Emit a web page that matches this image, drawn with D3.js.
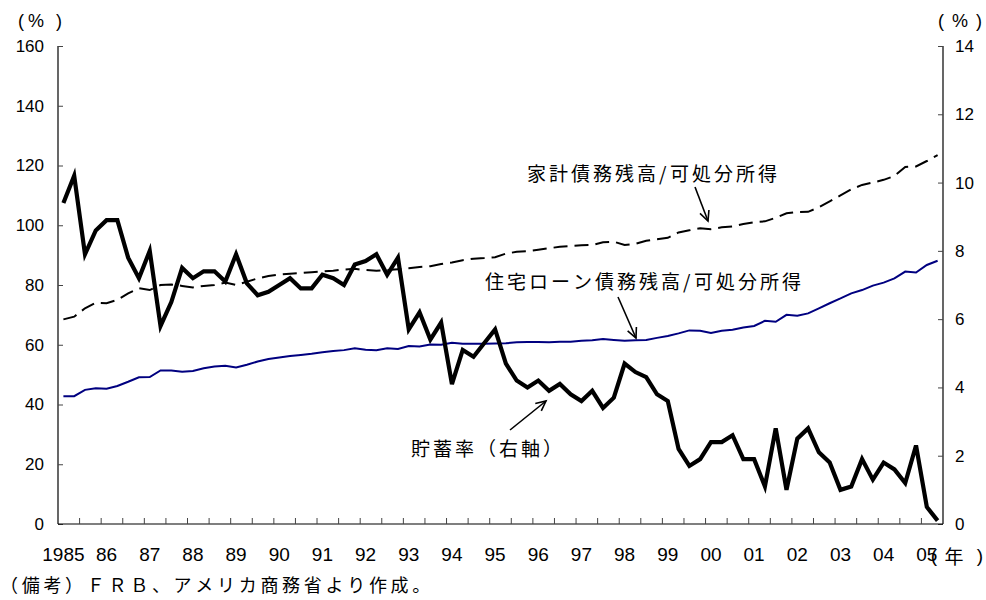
<!DOCTYPE html>
<html>
<head>
<meta charset="utf-8">
<script src="https://cdn.jsdelivr.net/npm/d3@7"></script>
<style>
  html, body { margin: 0; padding: 0; background: #fff; }
  svg { display: block; }
  .num { font-family: "Liberation Sans", Arial, sans-serif; fill: #000; }
  .jp { font-family: "Noto Sans CJK JP", sans-serif; fill: #000; }
</style>
</head>
<body>
<svg id="chart" width="986" height="600"></svg>
<script>
// Quarterly categories 1985Q1 – 2005Q2
const quarters = [];
for (let y = 1985; y <= 2005; y++) {
  for (let q = 1; q <= 4; q++) {
    if (y === 2005 && q > 2) break;
    quarters.push(y + "Q" + q);
  }
}

// Year labels shown under the first quarter of each year
const yearLabels = ["1985","86","87","88","89","90","91","92","93","94","95",
                    "96","97","98","99","00","01","02","03","04","05"];

// Household debt / disposable income (%), left axis
const householdDebt = [
  68.5, 69.4, 72.2, 74.1, 73.9, 75.0, 77.2, 78.9, 78.3, 80.0,
  80.2, 79.7, 79.2, 79.7, 80.0, 80.8, 80.0, 81.1, 82.2, 83.0,
  83.5, 83.8, 84.0, 84.3, 84.5, 84.8, 85.2, 85.4, 85.0, 84.8,
  85.0, 85.3, 85.6, 86.0, 86.3, 87.0, 87.5, 88.3, 88.8, 89.0,
  89.3, 90.5, 91.1, 91.3, 91.8, 92.3, 92.8, 93.0, 93.3, 93.4,
  94.3, 94.5, 93.4, 93.8, 94.8, 95.3, 95.8, 97.6, 98.3, 99.0,
  98.7, 99.3, 99.6, 100.4, 101.0, 101.3, 102.5, 104.0, 104.4, 104.5,
  106.0, 108.0, 110.0, 112.0, 113.5, 114.3, 115.2, 116.5, 119.5, 119.7,
  121.5, 123.5
];

// Mortgage debt / disposable income (%), left axis
const mortgageDebt = [
  42.8, 42.8, 44.9, 45.4, 45.3, 46.2, 47.6, 49.1, 49.2, 51.4,
  51.4, 51.0, 51.2, 52.1, 52.7, 53.0, 52.4, 53.3, 54.4, 55.2,
  55.7, 56.2, 56.6, 57.0, 57.5, 57.9, 58.2, 58.8, 58.3, 58.2,
  58.8, 58.6, 59.6, 59.4, 60.1, 60.0, 60.7, 60.3, 60.3, 60.3,
  60.4, 60.5, 60.8, 60.9, 60.9, 60.8, 61.0, 61.0, 61.3, 61.5,
  61.9, 61.6, 61.3, 61.5, 61.6, 62.3, 62.9, 63.8, 64.8, 64.7,
  63.9, 64.7, 65.0, 65.8, 66.3, 68.0, 67.7, 70.0, 69.7, 70.5,
  72.2, 73.9, 75.5, 77.2, 78.3, 79.8, 80.8, 82.2, 84.5, 84.2,
  86.7, 88.1
];

// Personal saving rate (%), right axis
const savingRate = [
  9.4, 10.2, 7.9, 8.6, 8.9, 8.9, 7.8, 7.2, 8.0, 5.8,
  6.5, 7.5, 7.2, 7.4, 7.4, 7.1, 7.9, 7.05, 6.7, 6.8,
  7.0, 7.2, 6.9, 6.9, 7.3, 7.2, 7.0, 7.6, 7.7, 7.9,
  7.3, 7.8, 5.7, 6.2, 5.4, 5.9, 4.1, 5.1, 4.9, 5.3,
  5.7, 4.7, 4.2, 4.0, 4.2, 3.9, 4.1, 3.8, 3.6, 3.9,
  3.4, 3.7, 4.7, 4.45, 4.3, 3.8, 3.6, 2.2, 1.7, 1.9,
  2.4, 2.4, 2.6, 1.9, 1.9, 1.1, 2.8, 1.0, 2.5, 2.8,
  2.1, 1.8, 1.0, 1.1, 1.9, 1.3, 1.8, 1.6, 1.2, 2.3,
  0.5, 0.1
];

const leftTicks = [0, 20, 40, 60, 80, 100, 120, 140, 160];
const rightTicks = [0, 2, 4, 6, 8, 10, 12, 14];

const svg = d3.select("#chart");
const plot = { left: 58, right: 943, top: 46, bottom: 524 };

const xBand = d3.scaleBand().domain(quarters).range([plot.left, plot.right]).padding(0);
const xPt = q => xBand(q) + xBand.bandwidth() / 2;
const yL = d3.scaleLinear().domain([0, 160]).range([plot.bottom, plot.top]);
const yR = d3.scaleLinear().domain([0, 14]).range([plot.bottom, plot.top]);

// Lay a string out on a fixed character grid (half a cell for ASCII)
function gridText(str, x, y, size, pitch, cls) {
  const t = svg.append("text").attr("class", cls || "jp")
    .attr("y", y).attr("dominant-baseline", "central")
    .style("font-size", size + "px");
  let cx = x;
  for (const ch of str) {
    t.append("tspan").attr("x", cx).text(ch);
    cx += ch.charCodeAt(0) < 256 ? pitch / 2 : pitch;
  }
  return t;
}

// Place single glyphs centred at given x positions
function spacedGlyphs(glyphs, xs, y, size, cls) {
  svg.append("g").selectAll("text").data(glyphs).join("text")
    .attr("class", (d, i) => cls[i])
    .attr("x", (d, i) => xs[i]).attr("y", y)
    .attr("text-anchor", "middle").attr("dominant-baseline", "central")
    .style("font-size", size + "px")
    .text(d => d);
}

// Axes
const leftAxis = d3.axisLeft(yL).tickValues(leftTicks).tickSize(-5).tickPadding(14);
const gL = svg.append("g").attr("transform", `translate(${plot.left},0)`).call(leftAxis);
gL.selectAll("text").attr("class", "num").style("font-size", "17px");

const rightAxis = d3.axisRight(yR).tickValues(rightTicks).tickSize(-5).tickPadding(12);
const gR = svg.append("g").attr("transform", `translate(${plot.right},0)`).call(rightAxis);
gR.selectAll("text").attr("class", "num").style("font-size", "17px");

// Bottom axis: tick marks every two quarters, labels every year
const tickQuarters = quarters.filter((q, i) => i % 2 === 0 && i > 0);
const bottomAxis = d3.axisBottom(xBand).tickValues(tickQuarters).tickSize(-6).tickFormat("");
const gB = svg.append("g").attr("transform", `translate(0,${plot.bottom})`).call(bottomAxis);
gB.selectAll(".tick line").attr("transform", `translate(${-xBand.bandwidth() / 2},0)`);

[gL, gR, gB].forEach(g => {
  g.select(".domain").attr("stroke", "#000").attr("stroke-width", 1.2);
  g.selectAll(".tick line").attr("stroke", "#444").attr("stroke-width", 1);
  g.attr("font-family", null).attr("font-size", null);
});
gL.select(".domain").attr("d", `M0,${plot.top}V${plot.bottom}`);
gR.select(".domain").attr("d", `M0,${plot.top}V${plot.bottom}`);
gB.select(".domain").attr("d", `M${plot.left},0H${plot.right}`);

svg.append("g").selectAll("text")
  .data(yearLabels)
  .join("text")
  .attr("class", "num")
  .attr("x", (d, i) => xPt(quarters[i * 4]))
  .attr("y", 554)
  .attr("text-anchor", "middle")
  .attr("dominant-baseline", "central")
  .style("font-size", "19px")
  .text(d => d);

// Series lines
const lineL = d3.line().x((d, i) => xPt(quarters[i])).y(d => yL(d));
const lineR = d3.line().x((d, i) => xPt(quarters[i])).y(d => yR(d));

svg.append("path").datum(mortgageDebt)
  .attr("d", lineL).attr("fill", "none")
  .attr("stroke", "#000080").attr("stroke-width", 2);

svg.append("path").datum(householdDebt)
  .attr("d", lineL).attr("fill", "none")
  .attr("stroke", "#000").attr("stroke-width", 2)
  .attr("stroke-dasharray", "14,7");

svg.append("path").datum(savingRate)
  .attr("d", lineR).attr("fill", "none")
  .attr("stroke", "#000").attr("stroke-width", 4.2)
  .attr("stroke-linejoin", "miter");

// Unit labels
spacedGlyphs(["(", "%", ")"], [21, 36, 59], 21, 18, ["num", "num", "num"]);
spacedGlyphs(["(", "%", ")"], [941, 960, 979], 21, 18, ["num", "num", "num"]);
spacedGlyphs(["(", "年", ")"], [934, 954, 980], 555, 19, ["num", "jp", "num"]);

// Note
gridText("（備考）ＦＲＢ、アメリカ商務省より作成。", 0, 584, 18, 21.7);

// Annotations with open arrows
function annotate(label, tx, ty, x1, y1, x2, y2) {
  gridText(label, tx, ty, 19, 22);
  svg.append("line").attr("x1", x1).attr("y1", y1).attr("x2", x2).attr("y2", y2)
    .attr("stroke", "#000").attr("stroke-width", 1.6);
  const ang = Math.atan2(y2 - y1, x2 - x1);
  const L = 11, spread = 0.45;
  const p = a => [x2 - L * Math.cos(a), y2 - L * Math.sin(a)];
  const a1 = p(ang - spread), a2 = p(ang + spread);
  svg.append("path")
    .attr("d", `M${a1[0]},${a1[1]}L${x2},${y2}L${a2[0]},${a2[1]}`)
    .attr("fill", "none").attr("stroke", "#000").attr("stroke-width", 1.6);
}

annotate("家計債務残高/可処分所得", 527, 172, 695, 187, 708, 221);
annotate("住宅ローン債務残高/可処分所得", 485, 280, 618, 297, 636, 338);
annotate("貯蓄率（右軸）", 411, 447, 510, 430, 546, 401);
</script>
</body>
</html>
